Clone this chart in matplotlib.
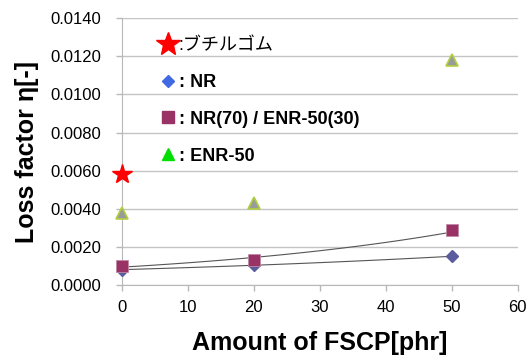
import numpy as np
import matplotlib
matplotlib.use("Agg")
import matplotlib.pyplot as plt
from matplotlib.lines import Line2D

plt.rcParams['font.family'] = ['Liberation Sans', 'Noto Sans CJK JP', 'DejaVu Sans']

# FSCP loading [phr] and loss factor
fscp = [0, 20, 50]
nr = [0.0008, 0.00105, 0.0015]
blend = [0.0010, 0.0013, 0.0029]
enr50 = [0.0038, 0.0043, 0.0118]
butyl_x = [0]
butyl = [0.0058]

labels = [":ブチルゴム", ": NR", ": NR(70) / ENR-50(30)", ": ENR-50"]

fig = plt.figure(figsize=(5.30, 3.56), dpi=100)
ax = fig.add_axes([0.230, 0.1994, 0.747, 0.7496])

# exponential trendlines for the NR and blend series
xs = np.linspace(0, 50, 60)
for ys in (nr, blend):
    b, a = np.polyfit(fscp, np.log(ys), 1)
    ax.plot(xs, np.exp(a) * np.exp(b * xs), color='#555555', lw=0.8, zorder=2)

ax.plot(fscp, nr, 'D', ms=6, color='#5a5c9e', mec='#5a5c9e', zorder=3, clip_on=False)
ax.plot(fscp, blend, 's', ms=8, color='#993366', mec='#c08aa6', mew=0.6, zorder=4,
        clip_on=False)
ax.plot(fscp, enr50, '^', ms=8, color='#9a9a9a', mec='#b0d040', mew=1.2, zorder=3,
        clip_on=False)
ax.plot(butyl_x, butyl, '*', ms=15, color='#ff0000', mec='#ff0000', zorder=5,
        clip_on=False)

ax.set_xlim(0, 60)
ax.set_ylim(0, 0.014)
ax.set_xticks(range(0, 61, 10))
ax.set_yticks(np.arange(0, 0.01401, 0.002))
ax.yaxis.set_major_formatter(plt.FuncFormatter(lambda v, p: f"{v:.4f}"))
ax.grid(axis='y', color='#c4c4c4', lw=1)
ax.set_axisbelow(True)
for s in ('top', 'right'):
    ax.spines[s].set_visible(False)
for s in ('left', 'bottom'):
    ax.spines[s].set_color('#b8b8b8')
ax.tick_params(axis='both', colors='#b8b8b8', labelcolor='black', labelsize=12,
               length=4, width=1)
ax.tick_params(axis='x', pad=7)
ax.tick_params(axis='y', pad=11)

ax.set_xlabel("Amount of FSCP[phr]", fontsize=18, fontweight='bold', labelpad=11)
ax.set_ylabel("Loss factor η[-]", fontsize=18, fontweight='bold', labelpad=8)

handles = [
    Line2D([], [], ls='', marker='*', ms=18, color='#ff0000'),
    Line2D([], [], ls='', marker='D', ms=6, color='#4169e1'),
    Line2D([], [], ls='', marker='s', ms=9, color='#993366'),
    Line2D([], [], ls='', marker='^', ms=8, color='#00e000'),
]
leg = ax.legend(handles, labels, loc='upper left', bbox_to_anchor=(0.052, 0.99),
                frameon=False, handlelength=1.0, handletextpad=0.1,
                labelspacing=1.1, prop={'size': 13, 'weight': 'bold'})
leg.get_texts()[0].set_fontweight('normal')

fig.savefig("out.png", dpi=100)
